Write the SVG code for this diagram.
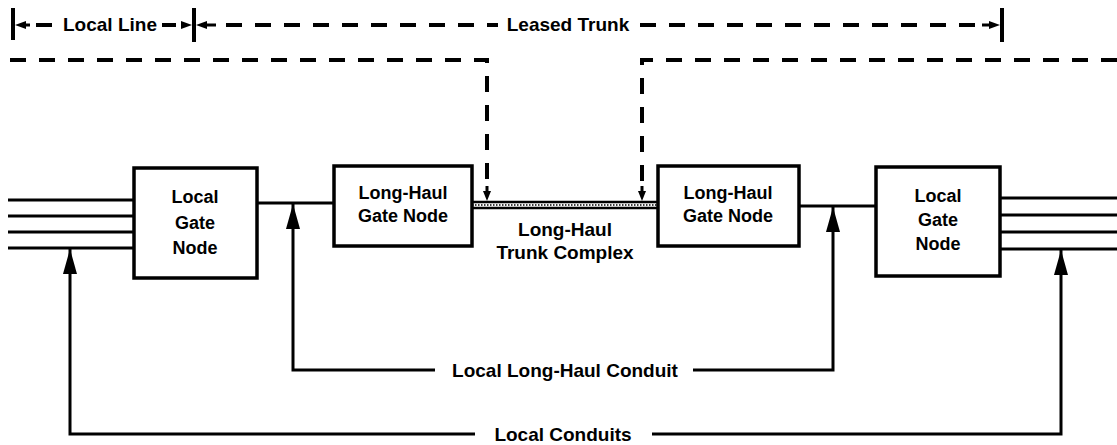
<svg xmlns="http://www.w3.org/2000/svg" width="1117" height="445" viewBox="0 0 1117 445">
<defs>
<style>
.box{fill:#fff;stroke:#000;stroke-width:3.5}
.ln{fill:none;stroke:#000;stroke-width:3}
.dash{fill:none;stroke:#000;stroke-width:4;stroke-dasharray:16 13}
.t{font-family:"Liberation Sans",Arial,sans-serif;font-weight:bold;font-size:18px;fill:#000;text-anchor:middle}
.lbl{font-family:"Liberation Sans",Arial,sans-serif;font-weight:bold;font-size:19px;fill:#000;text-anchor:middle}
</style>
<marker id="up" markerWidth="26" markerHeight="14" refX="25" refY="7" orient="auto" markerUnits="userSpaceOnUse" viewBox="0 0 26 14">
<path d="M0 0 L25 7 L0 14 Z" fill="#000"/>
</marker>
</defs>
<rect width="1117" height="445" fill="#fff"/>

<g id="connectors">
<!-- top span row -->
<line x1="13" y1="8" x2="13" y2="40" stroke="#000" stroke-width="4"/>
<line x1="194" y1="8" x2="194" y2="42" stroke="#000" stroke-width="4"/>
<line x1="1002" y1="8" x2="1002" y2="42" stroke="#000" stroke-width="4"/>
<path d="M15 25 L26 21 L26 29 Z" fill="#000"/>
<line x1="26" y1="25" x2="30" y2="25" stroke="#000" stroke-width="3"/>
<line x1="36" y1="25" x2="52" y2="25" stroke="#000" stroke-width="4"/>
<line x1="162" y1="25" x2="176" y2="25" stroke="#000" stroke-width="4"/>
<path d="M192 25 L181 21 L181 29 Z" fill="#000"/>
<path d="M196 25 L207 21 L207 29 Z" fill="#000"/>
<line x1="207" y1="25" x2="216" y2="25" stroke="#000" stroke-width="3"/>
<line x1="226" y1="25" x2="498" y2="25" class="dash"/>
<line x1="640" y1="25" x2="980" y2="25" class="dash"/>
<path d="M1000 25 L989 21 L989 29 Z" fill="#000"/>
<line x1="982" y1="25" x2="990" y2="25" stroke="#000" stroke-width="3"/>

<!-- leased trunk dashed paths -->
<path d="M10 60 H487 V190" class="dash"/>
<path d="M487 186 V192" stroke="#000" stroke-width="3"/>
<path d="M487 201 L483 191 L491 191 Z" fill="#000"/>
<path d="M1117 60 H642 V190" class="dash"/>
<path d="M642 186 V192" stroke="#000" stroke-width="3"/>
<path d="M642 201 L638 191 L646 191 Z" fill="#000"/>

<!-- left incoming lines -->
<line x1="8" y1="200" x2="134" y2="200" class="ln"/>
<line x1="8" y1="216" x2="134" y2="216" class="ln"/>
<line x1="8" y1="232" x2="134" y2="232" class="ln"/>
<line x1="8" y1="248" x2="134" y2="248" class="ln"/>
<!-- right outgoing lines -->
<line x1="1000" y1="198" x2="1117" y2="198" class="ln"/>
<line x1="1000" y1="215" x2="1117" y2="215" class="ln"/>
<line x1="1000" y1="232" x2="1117" y2="232" class="ln"/>
<line x1="1000" y1="249" x2="1117" y2="249" class="ln"/>

<!-- local to long-haul links -->
<line x1="257" y1="203" x2="334" y2="203" class="ln"/>
<line x1="799" y1="206" x2="876" y2="206" class="ln"/>

<!-- trunk complex -->
<line x1="472" y1="202" x2="658" y2="202" stroke="#000" stroke-width="2.5"/>
<line x1="472" y1="208" x2="658" y2="208" stroke="#000" stroke-width="2.5"/>
<line x1="472" y1="205" x2="658" y2="205" stroke="#000" stroke-width="1.5" stroke-dasharray="1.5 1.5"/>

<!-- local long-haul conduit -->
<path d="M435 370 H293 V204" class="ln" marker-end="url(#up)"/>
<path d="M693 370 H833 V207" class="ln" marker-end="url(#up)"/>
<!-- local conduits -->
<path d="M475 434 H70 V249" class="ln" marker-end="url(#up)"/>
<path d="M652 434 H1061 V250" class="ln" marker-end="url(#up)"/>
</g>

<g id="labels">
<text class="lbl" x="110" y="31">Local Line</text>
<text class="lbl" x="568" y="31">Leased Trunk</text>
<text class="lbl" x="565" y="236">Long-Haul</text>
<text class="lbl" x="565" y="259">Trunk Complex</text>
<text class="lbl" x="565" y="377">Local Long-Haul Conduit</text>
<text class="lbl" x="563" y="441">Local Conduits</text>
</g>

<g id="local-gate-left">
<rect class="box" x="134" y="168" width="123" height="110"/>
<text class="t" x="195" y="203">Local</text>
<text class="t" x="195" y="229">Gate</text>
<text class="t" x="195" y="254">Node</text>
</g>

<g id="longhaul-gate-left">
<rect class="box" x="334" y="166" width="138" height="80"/>
<text class="t" x="403" y="199">Long-Haul</text>
<text class="t" x="403" y="222">Gate Node</text>
</g>

<g id="longhaul-gate-right">
<rect class="box" x="658" y="166" width="141" height="80"/>
<text class="t" x="728" y="199">Long-Haul</text>
<text class="t" x="728" y="222">Gate Node</text>
</g>

<g id="local-gate-right">
<rect class="box" x="876" y="167" width="124" height="109"/>
<text class="t" x="938" y="202">Local</text>
<text class="t" x="938" y="226">Gate</text>
<text class="t" x="938" y="250">Node</text>
</g>
</svg>
